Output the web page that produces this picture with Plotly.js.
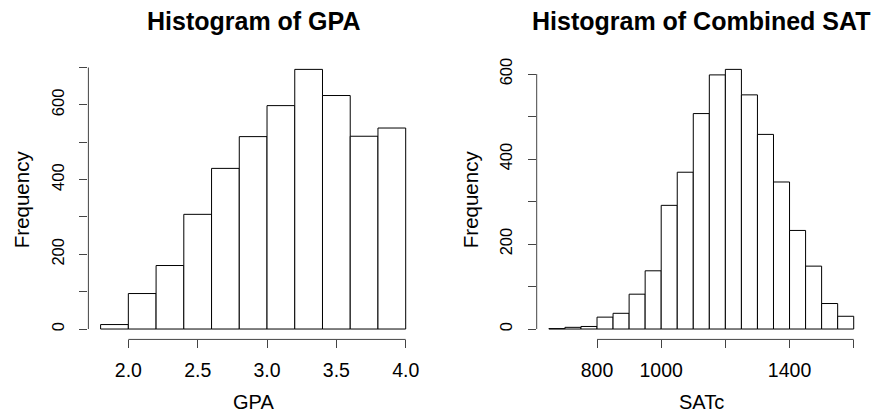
<!DOCTYPE html>
<html><head><meta charset="utf-8">
<script src="https://cdn.plot.ly/plotly-3.0.1.min.js"></script>
<style>html,body{margin:0;padding:0;background:#fff}#chart{width:877px;height:416px}</style>
</head><body><div id="chart"></div>
<script>
// ---- data ----
const gpaBreaks = [1.8, 2.0, 2.2, 2.4, 2.6, 2.8, 3.0, 3.2, 3.4, 3.6, 3.8, 4.0];
const gpaCounts = [12, 95, 170, 307, 430, 515, 598, 695, 625, 516, 538];
const satBreaks = [650, 700, 750, 800, 850, 900, 950, 1000, 1050, 1100, 1150, 1200, 1250, 1300, 1350, 1400, 1450, 1500, 1550, 1600];
const satCounts = [1, 4, 6, 28, 37, 82, 137, 291, 369, 507, 598, 611, 551, 458, 346, 232, 148, 60, 30];

const gpaXTicks = [2.0, 2.5, 3.0, 3.5, 4.0];
const gpaXLabels = ['2.0', '2.5', '3.0', '3.5', '4.0'];
const gpaYTicks = [0, 100, 200, 300, 400, 500, 600, 700];
const gpaYLabels = ['0', '', '200', '', '400', '', '600', ''];
const satXTicks = [800, 1000, 1200, 1400, 1600];
const satXLabels = ['800', '1000', '', '1400', ''];
const satYTicks = [0, 100, 200, 300, 400, 500, 600];
const satYLabels = ['0', '', '200', '', '400', '', '600'];

const titles = ['Histogram of GPA', 'Histogram of Combined SAT'];
const xTitles = ['GPA', 'SATc'];
const yTitle = 'Frequency';

// ---- helpers ----
function mids(b){ const m=[]; for(let i=0;i<b.length-1;i++) m.push((b[i]+b[i+1])/2); return m; }
function widths(b){ const w=[]; for(let i=0;i<b.length-1;i++) w.push(b[i+1]-b[i]); return w; }
function rng(lo, hi){ const d=(hi-lo)*0.04; return [lo-d, hi+d]; }

const FONT = 'Liberation Sans, Arial, Helvetica, sans-serif';
const barStyle = {color:'#ffffff', line:{color:'#000000', width:1}};

const traces = [
  {type:'bar', x:mids(gpaBreaks), y:gpaCounts, width:widths(gpaBreaks), marker:barStyle, xaxis:'x', yaxis:'y', hoverinfo:'skip'},
  {type:'bar', x:mids(satBreaks), y:satCounts, width:widths(satBreaks), marker:barStyle, xaxis:'x2', yaxis:'y2', hoverinfo:'skip'}
];

const yDom = [0.1841, 0.8582];
function xAx(dom, r, tv, tt){
  return {domain:dom, range:r, tickmode:'array', tickvals:tv, ticktext:tt, ticks:'outside', ticklen:8,
    tickcolor:'#444', tickwidth:1, showline:false, showgrid:false, zeroline:false, fixedrange:true,
    tickfont:{family:FONT, size:19.5, color:'#000'}, ticklabelstandoff:5};
}
function yAx(r, tv, tt, anchor){
  return {domain:yDom, range:r, tickmode:'array', tickvals:tv, ticktext:tt, ticks:'outside', ticklen:8,
    tickcolor:'#444', tickwidth:1, showline:false, showgrid:false, zeroline:false, fixedrange:true, anchor:anchor,
    tickangle:-90, tickfont:{family:FONT, size:16.5, color:'#000'}, ticklabelstandoff:9};
}

const gpaX = rng(gpaBreaks[0], gpaBreaks[gpaBreaks.length-1]);
const satX = rng(satBreaks[0], satBreaks[satBreaks.length-1]);
const gpaY = rng(0, Math.max(...gpaCounts));
const satY = rng(0, Math.max(...satCounts));

const axisLine = {color:'#444', width:1};
const shapes = [
  {type:'line', xref:'x', yref:'y domain', x0:gpaXTicks[0], x1:gpaXTicks[gpaXTicks.length-1], y0:0, y1:0, line:axisLine},
  {type:'line', xref:'x domain', yref:'y', x0:0, x1:0, y0:gpaYTicks[0], y1:gpaYTicks[gpaYTicks.length-1], line:axisLine},
  {type:'line', xref:'x2', yref:'y2 domain', x0:satXTicks[0], x1:satXTicks[satXTicks.length-1], y0:0, y1:0, line:axisLine},
  {type:'line', xref:'x2 domain', yref:'y2', x0:0, x1:0, y0:satYTicks[0], y1:satYTicks[satYTicks.length-1], line:axisLine}
];

const annotations = [
  {text:'<b>'+titles[0]+'</b>', xref:'x domain', yref:'paper', x:0.5, y:1-21/416, xanchor:'center', yanchor:'middle', showarrow:false, font:{family:FONT, size:25, color:'#000'}},
  {text:'<b>'+titles[1]+'</b>', xref:'x2 domain', yref:'paper', x:0.5, y:1-21/416, xanchor:'center', yanchor:'middle', showarrow:false, font:{family:FONT, size:25, color:'#000'}},
  {text:xTitles[0], xref:'x domain', yref:'paper', x:0.5, y:1-402/416, xanchor:'center', yanchor:'middle', showarrow:false, font:{family:FONT, size:20, color:'#000'}},
  {text:xTitles[1], xref:'x2 domain', yref:'paper', x:0.5, y:1-402/416, xanchor:'center', yanchor:'middle', showarrow:false, font:{family:FONT, size:20, color:'#000'}},
  {text:yTitle, xref:'paper', yref:'y domain', x:21/877, y:0.5, xanchor:'center', yanchor:'middle', textangle:-90, showarrow:false, font:{family:FONT, size:20.5, color:'#000'}},
  {text:yTitle, xref:'paper', yref:'y2 domain', x:470/877, y:0.5, xanchor:'center', yanchor:'middle', textangle:-90, showarrow:false, font:{family:FONT, size:20.5, color:'#000'}}
];

const layout = {
  width:877, height:416, margin:{l:0, r:0, t:0, b:0},
  paper_bgcolor:'#fff', plot_bgcolor:'#fff', showlegend:false, bargap:0,
  font:{family:FONT, color:'#000'},
  xaxis: xAx([88.4/877, 417.9/877], gpaX, gpaXTicks, gpaXLabels),
  yaxis: yAx(gpaY, gpaYTicks, gpaYLabels, 'x'),
  xaxis2: Object.assign(xAx([536.7/877, 865.9/877], satX, satXTicks, satXLabels), {anchor:'y2'}),
  yaxis2: yAx(satY, satYTicks, satYLabels, 'x2'),
  shapes: shapes, annotations: annotations
};
layout.xaxis.anchor = 'y';

Plotly.newPlot('chart', traces, layout, {staticPlot:true, displayModeBar:false});
</script></body></html>
